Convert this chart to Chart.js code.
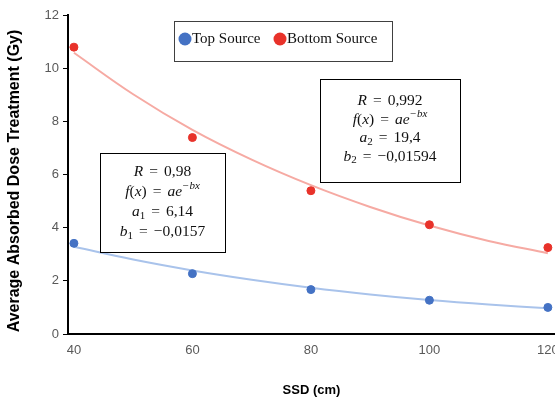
<!DOCTYPE html>
<html>
<head>
<meta charset="utf-8">
<script src="https://cdn.jsdelivr.net/npm/chart.js@4.4.1/dist/chart.umd.min.js"></script>
<style>
  html, body { margin: 0; padding: 0; background: #fff; overflow: hidden; }
  #wrap { width: 575px; height: 399px; }
</style>
</head>
<body>
<div id="wrap"><canvas id="myChart" width="575" height="399"></canvas></div>
<script>
// measured points
const ssd = [40, 60, 80, 100, 120];
const topSource = [3.41, 2.27, 1.67, 1.27, 1.00];
const bottomSource = [10.79, 7.39, 5.39, 4.11, 3.25];

// trend lines
const fitX = [40, 50, 60, 70, 80, 90, 100, 110, 120];
const topFit = [3.28, 2.80, 2.39, 2.04, 1.74, 1.49, 1.28, 1.11, 0.97];
const bottomFit = [10.58, 9.02, 7.68, 6.56, 5.60, 4.78, 4.08, 3.50, 3.04];

const xTicks = [40, 60, 80, 100, 120];
const seriesNames = ['Top Source', 'Bottom Source'];

// text boxes: segments, 'i' italic, 'n' normal, 'eq' equals sign with wide gaps
const box1Lines = [
  [['R', 'i'], ['=', 'eq'], ['0,98', 'n']],
  [['f', 'i'], ['(', 'n'], ['x', 'i'], [')', 'n'], ['=', 'eq'], ['ae', 'i'], ['\u2212bx', 'sup']],
  [['a', 'i'], ['1', 'sub'], ['=', 'eq'], ['6,14', 'n']],
  [['b', 'i'], ['1', 'sub'], ['=', 'eq'], ['\u22120,0157', 'n']]
];
const box2Lines = [
  [['R', 'i'], ['=', 'eq'], ['0,992', 'n']],
  [['f', 'i'], ['(', 'n'], ['x', 'i'], [')', 'n'], ['=', 'eq'], ['ae', 'i'], ['\u2212bx', 'sup']],
  [['a', 'i'], ['2', 'sub'], ['=', 'eq'], ['19,4', 'n']],
  [['b', 'i'], ['2', 'sub'], ['=', 'eq'], ['\u22120,01594', 'n']]
];

const blue = '#4472C4';
const red = '#E8322A';

function pts(xs, ys) {
  return xs.map((x, i) => ({ x: x, y: ys[i] }));
}

const serif = '"Liberation Serif", "Times New Roman", serif';
const EQ_GAP = 6;

function fontFor(kind, size) {
  if (kind === 'i') return 'italic ' + size + 'px ' + serif;
  if (kind === 'sup') return 'italic ' + Math.round(size * 0.72) + 'px ' + serif;
  if (kind === 'sub') return Math.round(size * 0.72) + 'px ' + serif;
  return size + 'px ' + serif;
}

function segWidth(ctx, s, size) {
  ctx.font = fontFor(s[1], size);
  let w = ctx.measureText(s[0]).width;
  if (s[1] === 'eq') w += EQ_GAP * 2;
  return w;
}

function drawRich(ctx, segs, cx, cy, size) {
  let total = 0;
  segs.forEach(s => { total += segWidth(ctx, s, size); });
  let x = cx - total / 2;
  segs.forEach(s => {
    const w = segWidth(ctx, s, size);
    let dy = 0;
    if (s[1] === 'sup') dy = -size * 0.38;
    if (s[1] === 'sub') dy = size * 0.25;
    ctx.font = fontFor(s[1], size);
    ctx.fillText(s[0], s[1] === 'eq' ? x + EQ_GAP : x, cy + dy);
    x += w;
  });
}

function textBox(ctx, l, t, r, b, lines, firstY, step) {
  ctx.save();
  ctx.fillStyle = '#fff';
  ctx.fillRect(l, t, r - l, b - t);
  ctx.strokeStyle = '#000';
  ctx.lineWidth = 1;
  ctx.strokeRect(l + 0.5, t + 0.5, r - l, b - t);
  ctx.fillStyle = '#111';
  ctx.textBaseline = 'middle';
  ctx.textAlign = 'left';
  lines.forEach((ln, i) => drawRich(ctx, ln, (l + r) / 2, firstY + i * step, 15.5));
  ctx.restore();
}

const extras = {
  id: 'extras',
  afterDraw(chart) {
    const ctx = chart.ctx;
    const area = chart.chartArea;

    // axis titles
    ctx.save();
    ctx.fillStyle = '#000';
    ctx.textAlign = 'center';
    ctx.textBaseline = 'middle';
    ctx.font = 'bold 13px "Liberation Sans", Arial, sans-serif';
    ctx.fillText('SSD (cm)', (area.left + area.right) / 2, 390);
    ctx.font = 'bold 16px "Liberation Sans", Arial, sans-serif';
    ctx.translate(15, 181);
    ctx.rotate(-Math.PI / 2);
    ctx.fillText('Average Absorbed Dose Treatment (Gy)', 0, 0);
    ctx.restore();

    // legend box
    ctx.save();
    ctx.fillStyle = '#fff';
    ctx.fillRect(174, 21, 218, 40);
    ctx.strokeStyle = '#404040';
    ctx.lineWidth = 1;
    ctx.strokeRect(174.5, 21.5, 218, 40);
    const cols = [blue, red];
    const xs = [185, 280];
    ctx.font = '15px ' + serif;
    ctx.textBaseline = 'middle';
    ctx.textAlign = 'left';
    seriesNames.forEach((name, i) => {
      ctx.fillStyle = cols[i];
      ctx.beginPath();
      ctx.arc(xs[i], 39, 6.5, 0, Math.PI * 2);
      ctx.fill();
      ctx.fillStyle = '#111';
      ctx.fillText(name, xs[i] + 7, 39);
    });
    ctx.restore();

    textBox(ctx, 100, 153, 225, 252, box1Lines, 172, 20);
    textBox(ctx, 320, 79, 460, 182, box2Lines, 101, 18.5);
  }
};

new Chart(document.getElementById('myChart'), {
  type: 'scatter',
  data: {
    datasets: [
      {
        label: seriesNames[0] + ' fit',
        data: pts(fitX, topFit),
        showLine: true,
        borderColor: '#A9C3EB',
        borderWidth: 2,
        pointRadius: 0,
        tension: 0.4,
        order: 3
      },
      {
        label: seriesNames[1] + ' fit',
        data: pts(fitX, bottomFit),
        showLine: true,
        borderColor: '#F6AAA3',
        borderWidth: 2,
        pointRadius: 0,
        tension: 0.4,
        order: 3
      },
      {
        label: seriesNames[0],
        data: pts(ssd, topSource),
        backgroundColor: blue,
        borderColor: blue,
        pointRadius: 4,
        order: 1
      },
      {
        label: seriesNames[1],
        data: pts(ssd, bottomSource),
        backgroundColor: red,
        borderColor: red,
        pointRadius: 4,
        order: 1
      }
    ]
  },
  options: {
    responsive: false,
    devicePixelRatio: 1,
    animation: false,
    events: [],
    layout: { padding: { left: 0, top: 15, right: 20, bottom: 0 } },
    plugins: {
      legend: { display: false },
      tooltip: { enabled: false }
    },
    scales: {
      x: {
        type: 'linear',
        min: 39,
        max: 121.2,
        afterBuildTicks: (scale) => { scale.ticks = xTicks.map(v => ({ value: v })); },
        afterFit: (scale) => { scale.height = 65; },
        grid: { display: false },
        border: { display: true, color: '#000', width: 2 },
        ticks: {
          color: '#595959',
          padding: 1,
          maxRotation: 0,
          font: { family: '"Liberation Sans Narrow", "Liberation Sans", Arial', size: 13 }
        }
      },
      y: {
        min: 0,
        max: 12,
        afterFit: (scale) => { scale.width = 68; },
        grid: { drawOnChartArea: false, drawTicks: true, tickLength: 5, color: '#000', lineWidth: 1 },
        border: { display: true, color: '#000', width: 2 },
        ticks: {
          stepSize: 2,
          color: '#595959',
          padding: 4,
          font: { family: '"Liberation Sans Narrow", "Liberation Sans", Arial', size: 13 }
        }
      }
    }
  },
  plugins: [extras]
});
</script>
</body>
</html>
